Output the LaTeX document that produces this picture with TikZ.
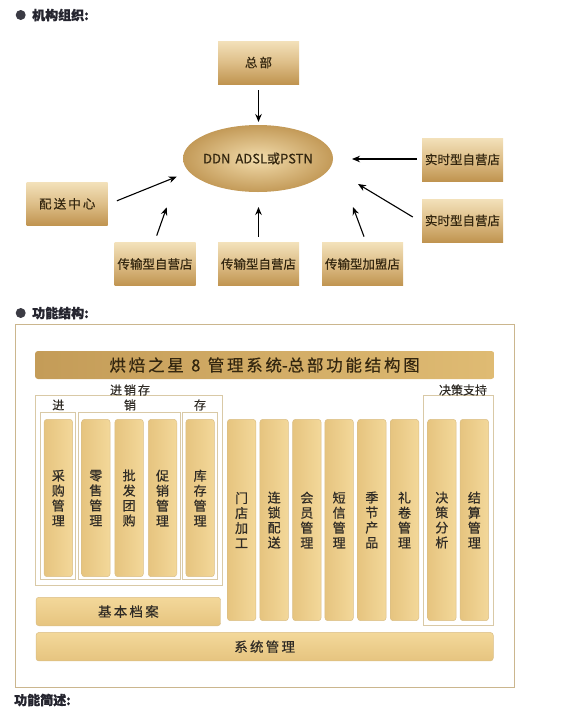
\documentclass[tikz,border=0pt]{standalone}
\usepackage{fontspec}
\setmainfont{Noto Sans CJK SC}
\newfontfamily\cjk[FakeBold=0.5]{Noto Sans CJK SC}
\newfontfamily\cjkh[FakeBold=1.2]{Noto Sans CJK SC}
\usetikzlibrary{arrows.meta,shapes.geometric,calc}
\definecolor{boxtop}{HTML}{F3E1BA}
\definecolor{boxmid}{HTML}{DDBE88}
\definecolor{boxbot}{HTML}{C09450}
\definecolor{boxtxt}{HTML}{33260F}
\definecolor{colL}{HTML}{E6C47F}
\definecolor{colR}{HTML}{F3D89A}
\definecolor{colB}{HTML}{DABE86}
\definecolor{coltxt}{HTML}{2F2B25}
\definecolor{frameC}{HTML}{CBB68E}
\definecolor{grpC}{HTML}{D9C9A6}
\definecolor{titL}{HTML}{C49C58}
\definecolor{titR}{HTML}{DFBB73}
\definecolor{headC}{HTML}{25252F}
\definecolor{ellIn}{HTML}{F2DCAC}
\definecolor{ellOut}{HTML}{C39A58}
\tikzset{
  orgbox/.style={minimum width=81pt,minimum height=43pt,inner sep=0pt,
    top color=boxtop,bottom color=boxbot,middle color=boxmid,
    text=boxtxt,font=\cjk\fontsize{12.5}{13}\selectfont},
  arr/.style={-{Stealth[length=8pt,width=6.5pt]},line width=1.1pt,black},
  colbox/.style={rounded corners=3pt,left color=colL,right color=colR,draw=colB,
    line width=0.5pt,minimum width=28.5pt,inner sep=0pt,align=center,
    text=coltxt,font=\cjk\fontsize{13}{15}\selectfont},
  barbox/.style={rounded corners=3pt,top color=colR,bottom color=colL,draw=colB,
    line width=0.5pt,minimum height=28.5pt,inner sep=0pt,
    text=coltxt,font=\cjk\fontsize{13.5}{15}\selectfont},
  grpbox/.style={draw=grpC,line width=0.7pt},
  lbl/.style={inner sep=0pt,text=coltxt,font=\cjk\fontsize{12}{13}\selectfont},
  head/.style={inner sep=0pt,anchor=west,text=headC,font=\cjkh\bfseries\fontsize{13}{14}\selectfont},
  dot/.style={circle,fill=headC!90,minimum size=10pt,inner sep=0pt}
}
\begin{document}
\begin{tikzpicture}[x=1pt,y=-1pt]
\useasboundingbox (0,0) rectangle (574,715);
% ---------- section 1 ----------
\node[dot] (b1) at (20.7,15) {};
\node[head] (h1) at (32,15) {机构组织:};
\node[orgbox] (zb) at (258.5,62.5) {总\,部};
\node[ellipse,minimum width=150pt,minimum height=67pt,inner sep=0pt,
      inner color=ellIn,outer color=ellOut,text=boxtxt,
      font=\cjk\fontsize{13}{13}\selectfont] (net) at (258,158.5) {\makebox[0pt]{DDN\hspace{5pt}ADSL或PSTN}};
\node[orgbox] (rt1) at (462.5,159.5) {实时型自营店};
\node[orgbox] (rt2) at (462.5,220.5) {实时型自营店};
\node[orgbox] (bl) at (155,264) {传输型自营店};
\node[orgbox] (bm) at (258.5,264) {传输型自营店};
\node[orgbox] (br) at (362.5,264) {传输型加盟店};
\node[orgbox] (ps) at (67.2,203.8) {配\,送\,中\,心};
\coordinate (t0) at (258.5,122);
\coordinate (t1) at (352,159);
\coordinate (t2) at (358,184);
\coordinate (t3) at (258.5,207);
\coordinate (t4) at (353,207);
\coordinate (t5) at (166.7,207.3);
\coordinate (t6) at (176.7,176.7);
\draw[arr] ([yshift=-6pt]zb.south) -- (t0);
\draw[arr] ([xshift=-5pt,yshift=0.5pt]rt1.west) -- (t1);
\draw[arr] ([xshift=-9pt,yshift=3.5pt]rt2.west) -- (t2);
\draw[arr] ([yshift=5.7pt]bm.north) -- (t3);
\draw[arr] ([xshift=1.5pt,yshift=5.7pt]br.north) -- (t4);
\draw[arr] ([xshift=1.7pt,yshift=6.7pt]bl.north) -- (t5);
\draw[arr] ([xshift=9pt,yshift=3pt]ps.east) -- (t6);
% ---------- section 2 ----------
\node[dot] (b2) at (20.7,313) {};
\node[head] (h2) at (32,313) {功能结构:};
\draw[frameC,line width=0.8pt] (15,324) rectangle (514,687);
\node[rounded corners=3pt,left color=titL,right color=titR,minimum width=459.3pt,
      minimum height=28pt,inner sep=0pt,text=boxtxt,
      font=\cjk\fontsize{16.5}{18}\selectfont] (title) at (264.65,365)
      {烘\,焙\,之\,星\ \ 8\ \ 管\,理\,系\,统-总\,部\,功\,能\,结\,构\,图};
% group boxes
\draw[grpbox] (35.7,395.7) rectangle (222.3,585);
\draw[grpbox] (40.7,412.7) rectangle (75.7,579.3);
\draw[grpbox] (78.3,412.7) rectangle (180,579.3);
\draw[grpbox] (182.7,412.7) rectangle (217.7,579.3);
\draw[grpbox] (423.3,395.7) rectangle (493.3,625.7);
\node[lbl] (l0) at (130,390) {进\,销\,存};
\node[lbl] (l1) at (463,390) {决策支持};
\node[lbl] (l2) at (58.3,405) {进};
\node[lbl] (l3) at (130,405) {销};
\node[lbl] (l4) at (200,405) {存};
% short columns
\foreach \n/\x/\t in {c1/58.35/{采\\购\\管\\理},c2/95.85/{零\\售\\管\\理},c3/129.15/{批\\发\\团\\购},
                      c4/162.5/{促\\销\\管\\理},c5/200.15/{库\\存\\管\\理}}
  \node[colbox,minimum height=157.4pt] (\n) at (\x,498) {\t};
% tall columns
\foreach \n/\x/\t in {d1/241.6/{门\\店\\加\\工},d2/274.15/{连\\锁\\配\\送},d3/306.85/{会\\员\\管\\理},
                      d4/339.15/{短\\信\\管\\理},d5/371.85/{季\\节\\产\\品},d6/404.5/{礼\\卷\\管\\理},
                      d7/441.85/{决\\策\\分\\析},d8/474.35/{结\\算\\管\\理}}
  \node[colbox,minimum height=201.4pt] (\n) at (\x,520) {\t};
\node[barbox,minimum width=184.7pt] (jb) at (128.35,611.5) {基\,本\,档\,案};
\node[barbox,minimum width=457.3pt] (xt) at (264.65,646.7) {系\,统\,管\,理};
\node[head] (h3) at (14,700) {功能简述:};
\end{tikzpicture}
\end{document}
